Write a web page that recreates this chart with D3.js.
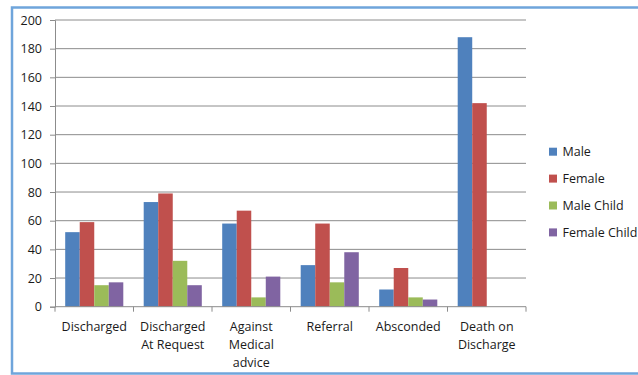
<!DOCTYPE html>
<html>
<head>
<meta charset="utf-8">
<script src="https://cdn.jsdelivr.net/npm/d3@7"></script>
<style>
  html, body { margin: 0; padding: 0; background: #fff; }
  svg { display: block; }
  text { font-family: "Open Sans", "Liberation Sans", sans-serif; fill: #1a1a1a; }
</style>
</head>
<body>
<svg id="chart" width="638" height="375"></svg>
<script>
// Outcome categories (multi-line labels) and patient groups
const categories = [
  ["Discharged"],
  ["Discharged", "At Request"],
  ["Against", "Medical", "advice"],
  ["Referral"],
  ["Absconded"],
  ["Death on", "Discharge"]
];
const seriesNames = ["Male", "Female", "Male Child", "Female Child"];
const seriesColors = ["#4F81BD", "#C0504D", "#9BBB59", "#8064A2"];

const male        = [52, 73, 58, 29, 12, 188];
const female      = [59, 79, 67, 58, 27, 142];
const maleChild   = [15, 32, 6.5, 17, 6.5, 0];
const femaleChild = [17, 15, 21, 38, 5, 0];
const seriesValues = [male, female, maleChild, femaleChild];

const yTicks = [0, 20, 40, 60, 80, 100, 120, 140, 160, 180, 200];

const FONT = 12.5;
const svg = d3.select("#chart");

// Outer frame (runs past the right edge)
svg.append("rect")
  .attr("x", 12).attr("y", 7.5)
  .attr("width", 700).attr("height", 366)
  .attr("fill", "none")
  .attr("stroke", "#6FA5DB")
  .attr("stroke-width", 2.5);

const plot = { left: 55, right: 526, top: 20, bottom: 306.7 };

const x = d3.scaleBand()
  .domain(d3.range(categories.length))
  .range([plot.left, plot.right])
  .paddingInner(0).paddingOuter(0);

const step = x.bandwidth();
const xInner = d3.scaleBand()
  .domain(d3.range(seriesNames.length))
  .range([step * 0.13, step * 0.87])
  .padding(0);

const y = d3.scaleLinear().domain([0, 200]).range([plot.bottom, plot.top]);

// Horizontal gridlines
svg.append("g")
  .selectAll("line")
  .data(yTicks.filter(t => t > 0))
  .join("line")
  .attr("x1", plot.left).attr("x2", plot.right)
  .attr("y1", d => y(d)).attr("y2", d => y(d))
  .attr("stroke", "#8C8C8C").attr("stroke-width", 1);

// Y axis
const yAxis = svg.append("g")
  .attr("transform", `translate(${plot.left},0)`)
  .call(d3.axisLeft(y).tickValues(yTicks).tickSize(5).tickPadding(8).tickFormat(d3.format("d")));
yAxis.select(".domain").attr("stroke", "#8C8C8C");
yAxis.selectAll(".tick line").attr("stroke", "#8C8C8C");
yAxis.selectAll(".tick text")
  .attr("font-family", "'Open Sans', 'Liberation Sans', sans-serif")
  .attr("font-size", FONT).attr("fill", "#1a1a1a");

// Bars
const groups = svg.append("g")
  .selectAll("g")
  .data(categories.map((c, i) => i))
  .join("g")
  .attr("transform", i => `translate(${x(i)},0)`);

groups.selectAll("rect")
  .data(i => seriesValues.map((vals, s) => ({ s, v: vals[i] })))
  .join("rect")
  .attr("x", d => xInner(d.s))
  .attr("width", xInner.bandwidth())
  .attr("y", d => y(d.v))
  .attr("height", d => y(0) - y(d.v))
  .attr("fill", d => seriesColors[d.s]);

// X axis line with boundary ticks
const xAxisG = svg.append("g");
xAxisG.append("line")
  .attr("x1", plot.left).attr("x2", plot.right)
  .attr("y1", y(0)).attr("y2", y(0))
  .attr("stroke", "#8C8C8C");
xAxisG.selectAll("line.tk")
  .data(d3.range(categories.length + 1))
  .join("line")
  .attr("class", "tk")
  .attr("x1", i => plot.left + i * step).attr("x2", i => plot.left + i * step)
  .attr("y1", y(0)).attr("y2", y(0) + 5)
  .attr("stroke", "#8C8C8C");

// Category labels
svg.append("g")
  .selectAll("text")
  .data(categories)
  .join("text")
  .attr("text-anchor", "middle")
  .attr("font-size", FONT)
  .attr("x", (d, i) => x(i) + step / 2)
  .attr("y", 331)
  .selectAll("tspan")
  .data(d => d)
  .join("tspan")
  .attr("x", function () { return d3.select(this.parentNode).attr("x"); })
  .attr("dy", (d, j) => j === 0 ? 0 : 18)
  .text(d => d);

// Legend
const legend = svg.append("g")
  .selectAll("g")
  .data(seriesNames)
  .join("g")
  .attr("transform", (d, i) => `translate(549,${151.7 + i * 26.9})`);
legend.append("rect")
  .attr("x", 0).attr("y", -4).attr("width", 8).attr("height", 8)
  .attr("fill", (d, i) => seriesColors[i]);
legend.append("text")
  .attr("x", 13.5).attr("y", 4.5)
  .attr("font-size", FONT)
  .text(d => d);
</script>
</body>
</html>
